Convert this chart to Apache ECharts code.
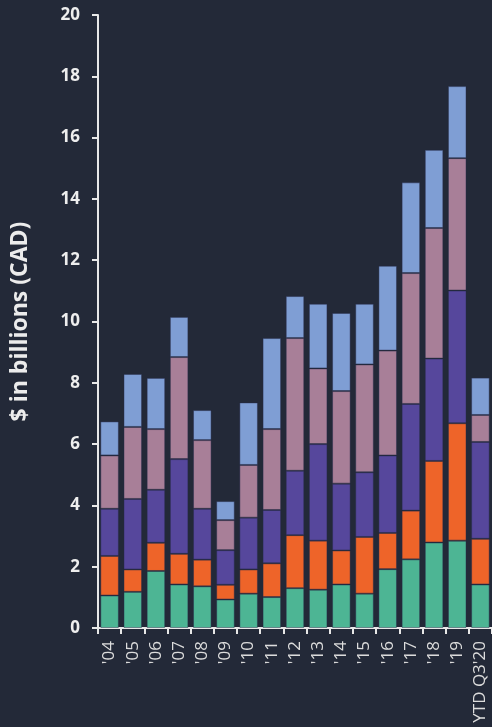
<!DOCTYPE html>
<html>
<head>
<meta charset="utf-8">
<script src="https://cdn.jsdelivr.net/npm/echarts@6/dist/echarts.min.js"></script>
<style>
  html, body { margin: 0; padding: 0; background: #232938; }
  #chart { width: 492px; height: 727px; }
</style>
</head>
<body>
<div id="chart"></div>
<script>
const categories = ["'04", "'05", "'06", "'07", "'08", "'09", "'10", "'11", "'12",
  "'13", "'14", "'15", "'16", "'17", "'18", "'19", "YTD Q3'20"];

// stacked segments, bottom to top
const greenVals  = [1.06, 1.18, 1.86, 1.42, 1.36, 0.93, 1.12, 1.01, 1.30, 1.25, 1.42, 1.12, 1.92, 2.24, 2.79, 2.85, 1.42];
const orangeVals = [1.29, 0.73, 0.92, 1.00, 0.87, 0.48, 0.79, 1.10, 1.73, 1.60, 1.11, 1.85, 1.18, 1.59, 2.66, 3.83, 1.49];
const purpleVals = [1.54, 2.30, 1.73, 3.09, 1.66, 1.13, 1.69, 1.74, 2.10, 3.15, 2.18, 2.11, 2.53, 3.48, 3.34, 4.33, 3.16];
const mauveVals  = [1.74, 2.35, 1.98, 3.33, 2.24, 0.98, 1.72, 2.64, 4.33, 2.47, 3.02, 3.52, 3.42, 4.27, 4.26, 4.32, 0.88];
const blueVals   = [1.11, 1.73, 1.67, 1.31, 0.98, 0.62, 2.04, 2.97, 1.37, 2.11, 2.55, 1.98, 2.77, 2.96, 2.55, 2.35, 1.22];

const seriesData = [
  { vals: greenVals, color: "#4db594" },
  { vals: orangeVals, color: "#ee6429" },
  { vals: purpleVals, color: "#56479c" },
  { vals: mauveVals, color: "#a87f98" },
  { vals: blueVals, color: "#7f9ed4" }
];

const chart = echarts.init(document.getElementById("chart"));

const option = {
  animation: false,
  backgroundColor: "#232938",
  grid: { left: 98, top: 15, width: 396, bottom: 99, containLabel: false },
  xAxis: {
    type: "category",
    data: categories,
    axisLine: { lineStyle: { color: "#e8e8e8", width: 2 } },
    axisTick: { show: true, length: 6, lineStyle: { color: "#e8e8e8", width: 2 } },
    axisLabel: {
      rotate: 90,
      color: "#dcdcdc",
      fontFamily: "Open Sans",
      fontSize: 17,
      margin: 13
    }
  },
  yAxis: {
    type: "value",
    min: 0,
    max: 20,
    interval: 2,
    name: "$ in billions (CAD)",
    nameLocation: "middle",
    nameGap: 66,
    nameTextStyle: {
      color: "#ececec",
      fontFamily: "Open Sans",
      fontWeight: "bold",
      fontSize: 23
    },
    axisLine: { show: true, lineStyle: { color: "#e8e8e8", width: 2 } },
    axisTick: { show: true, length: 6, lineStyle: { color: "#e8e8e8", width: 2 } },
    axisLabel: {
      color: "#eeeeee",
      fontFamily: "Open Sans",
      fontWeight: "bold",
      fontSize: 17,
      margin: 18
    },
    splitLine: { show: false }
  },
  series: seriesData.map(function (s) {
    return {
      type: "bar",
      stack: "total",
      data: s.vals,
      barWidth: "80%",
      itemStyle: {
        color: s.color,
        borderColor: "rgba(40,45,75,0.45)",
        borderWidth: 1
      }
    };
  })
};

chart.setOption(option);
</script>
</body>
</html>
